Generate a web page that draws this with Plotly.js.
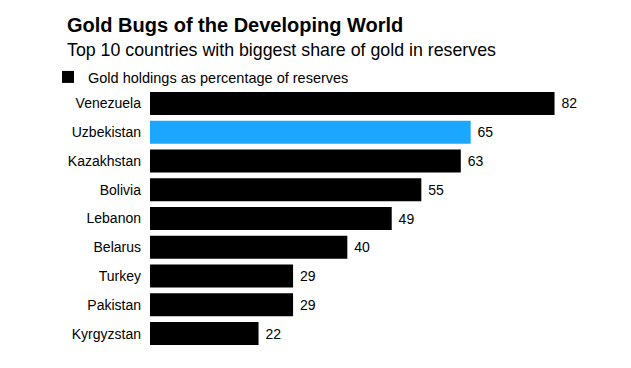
<!DOCTYPE html>
<html>
<head>
<meta charset="utf-8">
<script src="https://cdn.plot.ly/plotly-3.0.1.min.js"></script>
<style>html,body{margin:0;padding:0;background:#fff;}#chart{width:631px;height:368px;}</style>
</head>
<body>
<div id="chart"></div>
<script>
const countries = ["Venezuela","Uzbekistan","Kazakhstan","Bolivia","Lebanon","Belarus","Turkey","Pakistan","Kyrgyzstan"];
const goldShare = [82,65,63,55,49,40,29,29,22];
const barColors = ["#000000","#1ba6ff","#000000","#000000","#000000","#000000","#000000","#000000","#000000"];
const seriesName = "Gold holdings as percentage of reserves";
const titleText = "Gold Bugs of the Developing World";
const subtitleText = "Top 10 countries with biggest share of gold in reserves";

const FONT = "Liberation Sans, Arial, Helvetica, sans-serif";

const trace = {
  type: "bar",
  orientation: "h",
  y: countries,
  x: goldShare,
  name: seriesName,
  marker: {color: barColors, line: {width: 0}},
  text: goldShare.map(v => " " + v),
  textposition: "outside",
  textfont: {family: FONT, size: 14, color: "#000"},
  cliponaxis: false,
  hoverinfo: "skip",
  showlegend: true
};

const layout = {
  width: 631, height: 368,
  margin: {l: 150, r: 37, t: 89, b: 20, autoexpand: false},
  paper_bgcolor: "#fff", plot_bgcolor: "#fff",
  font: {family: FONT, color: "#000"},
  bargap: 0.2,
  title: {
    text: "<b>" + titleText + "</b>",
    font: {family: FONT, size: 20, color: "#000"},
    xref: "container", yref: "container",
    x: 67/631, xanchor: "left",
    y: 1 - 18/368, yanchor: "top",
    automargin: false
  },
  annotations: [{
    text: subtitleText,
    xref: "paper", yref: "paper",
    x: (66-150)/444, xanchor: "left",
    y: 1 + (89-50)/259, yanchor: "middle",
    borderpad: 0,
    showarrow: false,
    font: {family: FONT, size: 17.8, color: "#000"}
  }],
  showlegend: true,
  legend: {
    xref: "container", yref: "container",
    x: 48/631, xanchor: "left",
    y: 1 - 61/368, yanchor: "top",
    font: {family: FONT, size: 14.5, color: "#000"},
    bgcolor: "rgba(0,0,0,0)",
    borderwidth: 0,
    itemclick: false, itemdoubleclick: false
  },
  xaxis: {
    range: [0, 90],
    showgrid: false, zeroline: false, showline: false,
    showticklabels: false, ticks: "", fixedrange: true, automargin: false
  },
  yaxis: {
    autorange: "reversed",
    showgrid: false, zeroline: false, showline: false,
    ticks: "", ticklabelstandoff: 8, automargin: false,
    tickfont: {family: FONT, size: 14, color: "#000"},
    fixedrange: true
  }
};

Plotly.newPlot("chart", [trace], layout, {displayModeBar: false, staticPlot: true});
</script>
</body>
</html>
